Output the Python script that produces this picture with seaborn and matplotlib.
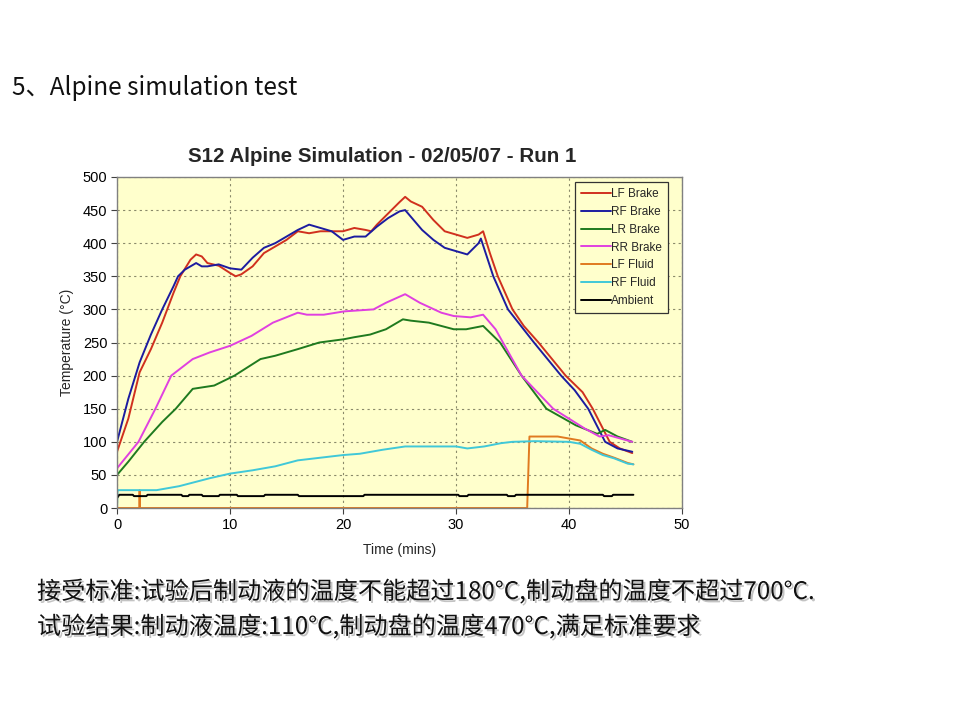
import matplotlib
matplotlib.use("Agg")
import matplotlib.pyplot as plt
import matplotlib.patheffects as pe
import pandas as pd
import seaborn as sns

SERIES = ["LF Brake", "RF Brake", "LR Brake", "RR Brake", "LF Fluid", "RF Fluid", "Ambient"]
COLORS = ["#d0301e", "#1c1ca0", "#1f7a1f", "#e040e0", "#e07a20", "#40c8d8", "#000000"]

LF_BRAKE_T = [0, 1, 2, 3, 4, 5, 5.6, 6.5, 7, 7.5, 8, 9, 10, 10.5, 11, 12, 13, 14, 15, 16, 17, 18,
              19, 20, 21, 22, 22.5, 23, 24, 25, 25.5, 26, 27, 28, 29, 30, 31, 32, 32.4, 33, 33.7,
              35, 36, 37.3, 38.5, 39.7, 41.2, 42.1, 43, 43.6, 44.5, 45.6]
LF_BRAKE_V = [85, 135, 205, 240, 280, 325, 350, 375, 383, 380, 370, 366, 355, 350, 353, 365, 385,
              395, 405, 418, 415, 418, 418, 418, 423, 420, 418, 428, 445, 462, 470, 463, 455, 435,
              418, 413, 408, 413, 418, 385, 350, 300, 275, 250, 225, 200, 175, 150, 120, 100, 90, 83]

RF_BRAKE_T = [0, 1, 2, 3, 4, 5, 5.4, 6, 7, 7.5, 8, 9, 10, 11, 12, 13, 14, 15, 16, 17, 18, 19, 20,
              21, 22, 23, 24, 25, 25.5, 26, 27, 28, 29, 30, 31, 32, 32.2, 33.3, 34.6, 36.9, 39.3,
              40.5, 41.7, 43.2, 44.3, 45.6]
RF_BRAKE_V = [100, 165, 220, 262, 300, 335, 350, 360, 370, 365, 365, 368, 362, 360, 378, 393, 400,
              410, 420, 428, 423, 418, 405, 410, 410, 425, 438, 448, 450, 440, 420, 405, 393, 388,
              383, 400, 407, 350, 300, 250, 200, 178, 150, 100, 90, 85]

LR_BRAKE_T = [0, 1, 2.4, 4, 5.2, 6.7, 8.6, 10.4, 12.7, 14, 16, 17.9, 20.1, 21, 22.4, 23.8, 25.3,
              26, 27.6, 29.8, 30.9, 32.4, 33.9, 35.8, 38, 40.6, 42.5, 43.2, 44.3, 45.6]
LR_BRAKE_V = [50, 70, 100, 130, 150, 180, 185, 200, 225, 230, 240, 250, 255, 258, 262, 270, 285,
              283, 280, 270, 270, 275, 250, 200, 150, 125, 112, 118, 108, 100]

RR_BRAKE_T = [0, 1.9, 3.4, 4.8, 6.7, 8.2, 10, 11.9, 13.8, 16, 16.8, 18.3, 20.1, 22.7, 23.8, 25.5,
              26.8, 28.7, 29.8, 31.3, 32.4, 33.5, 35.8, 38.6, 41.4, 42.7, 43.5, 45.6]
RR_BRAKE_V = [60, 100, 150, 200, 225, 235, 245, 260, 280, 295, 292, 292, 297, 300, 310, 323, 310,
              295, 290, 288, 292, 270, 200, 150, 120, 108, 110, 100]

LF_FLUID_T = [0, 1.98, 2.0, 2.02, 36.3, 36.5, 39, 40, 41, 42, 43, 44, 45.2, 45.7]
LF_FLUID_V = [0, 0, 27, 0, 0, 108, 108, 105, 102, 90, 82, 76, 68, 66]

RF_FLUID_T = [0, 0.05, 3.5, 5.5, 8.2, 10, 12, 14, 16, 17.5, 20, 21.5, 23.5, 25.5, 30, 31, 32.5, 34,
              35, 37, 40, 41, 42, 43, 44, 45.2, 45.7]
RF_FLUID_V = [0, 27, 27, 33, 45, 52, 57, 63, 72, 75, 80, 82, 88, 93, 93, 90, 93, 98, 100, 101, 100,
              97, 88, 80, 75, 67, 66]

AMBIENT_T = [0, 0.2, 1.4, 1.5, 2.6, 2.7, 5.7, 5.8, 6.3, 6.4, 7.5, 7.6, 9.0, 9.1, 10.6, 10.7, 13.0,
             13.1, 16.0, 16.1, 20.8, 20.9, 21.8, 21.9, 30.2, 30.3, 31.0, 31.1, 34.5, 34.6, 35.2,
             35.3, 43.0, 43.1, 43.8, 43.9, 45.7]
AMBIENT_V = [15, 20, 20, 18, 18, 20, 20, 18, 18, 20, 20, 18, 18, 20, 20, 18, 18, 20, 20, 18, 18, 18,
             18, 20, 20, 18, 18, 20, 20, 18, 18, 20, 20, 18, 18, 20, 20]

TIMES = [LF_BRAKE_T, RF_BRAKE_T, LR_BRAKE_T, RR_BRAKE_T, LF_FLUID_T, RF_FLUID_T, AMBIENT_T]
VALUES = [LF_BRAKE_V, RF_BRAKE_V, LR_BRAKE_V, RR_BRAKE_V, LF_FLUID_V, RF_FLUID_V, AMBIENT_V]

HEADING = "5、Alpine simulation test"
TITLE = "S12 Alpine Simulation - 02/05/07 - Run 1"
NOTE_1 = "接受标准:试验后制动液的温度不能超过180°C,制动盘的温度不超过700°C."
NOTE_2 = "试验结果:制动液温度:110°C,制动盘的温度470°C,满足标准要求"


def main() -> None:
    frames = []
    for name, t, v in zip(SERIES, TIMES, VALUES):
        frames.append(pd.DataFrame({"time": t, "temp": v, "series": name}))
    df = pd.concat(frames, ignore_index=True)

    sns.set_theme(style="white")
    plt.rcParams["font.family"] = ["Liberation Sans", "DejaVu Sans"]

    fig = plt.figure(figsize=(9.6, 7.2), dpi=100)
    ax = fig.add_axes([0.1219, 0.2944, 0.5885, 0.4598])
    ax.set_facecolor("#ffffcc")

    sns.lineplot(
        data=df,
        x="time",
        y="temp",
        hue="series",
        hue_order=SERIES,
        palette=dict(zip(SERIES, COLORS)),
        estimator=None,
        linewidth=1.4,
        ax=ax,
    )

    ax.set_xlim(0, 50)
    ax.set_ylim(0, 500)
    ax.set_xticks(range(0, 51, 10))
    ax.set_yticks(range(0, 501, 50))
    ax.grid(True, color="#8a8a6a", linestyle=(0, (2, 3)), linewidth=0.8)
    for spine in ax.spines.values():
        spine.set_color("#808080")
        spine.set_linewidth(1.0)
    ax.tick_params(axis="both", direction="out", length=4, width=0.8, color="#404040",
                   labelsize=10.5, labelcolor="black", bottom=True, left=True, pad=3)

    # the Excel chart title sits a little left of the plot-area centre
    ax.set_title(TITLE, fontsize=14.8, fontweight="bold", pad=11, x=0.469)
    ax.set_xlabel("Time (mins)", fontsize=10, labelpad=8)
    ax.set_ylabel("Temperature (°C)", fontsize=10, labelpad=6)

    handles, labels = ax.get_legend_handles_labels()
    leg = ax.legend(
        handles,
        labels,
        loc="upper left",
        bbox_to_anchor=(0.81, 0.985),
        borderaxespad=0,
        fontsize=8.5,
        handlelength=2.6,
        handletextpad=0.0,
        labelspacing=0.5,
        borderpad=0.5,
        fancybox=False,
        frameon=True,
    )
    leg.get_frame().set_edgecolor("#333333")
    leg.get_frame().set_facecolor("#ffffcc")
    leg.get_frame().set_linewidth(0.9)
    leg.get_frame().set_alpha(1.0)

    cjk = ["Noto Sans CJK SC", "DejaVu Sans"]
    fig.text(12 / 960, 1 - 88 / 720, HEADING, fontsize=17.5, family=cjk, va="center", ha="left",
             color="#111111")

    shadow = [pe.withSimplePatchShadow(offset=(1.5, -1.5), shadow_rgbFace="#888888", alpha=0.5)]
    fig.text(37 / 960, 1 - 592 / 720, NOTE_1, fontsize=17.4, family=cjk, weight="medium",
             va="center", ha="left", color="#111111", path_effects=shadow)
    fig.text(37 / 960, 1 - 627 / 720, NOTE_2, fontsize=17.4, family=cjk, weight="medium",
             va="center", ha="left", color="#111111", path_effects=shadow)

    fig.savefig("out.png", dpi=100, facecolor="white")


if __name__ == "__main__":
    main()
